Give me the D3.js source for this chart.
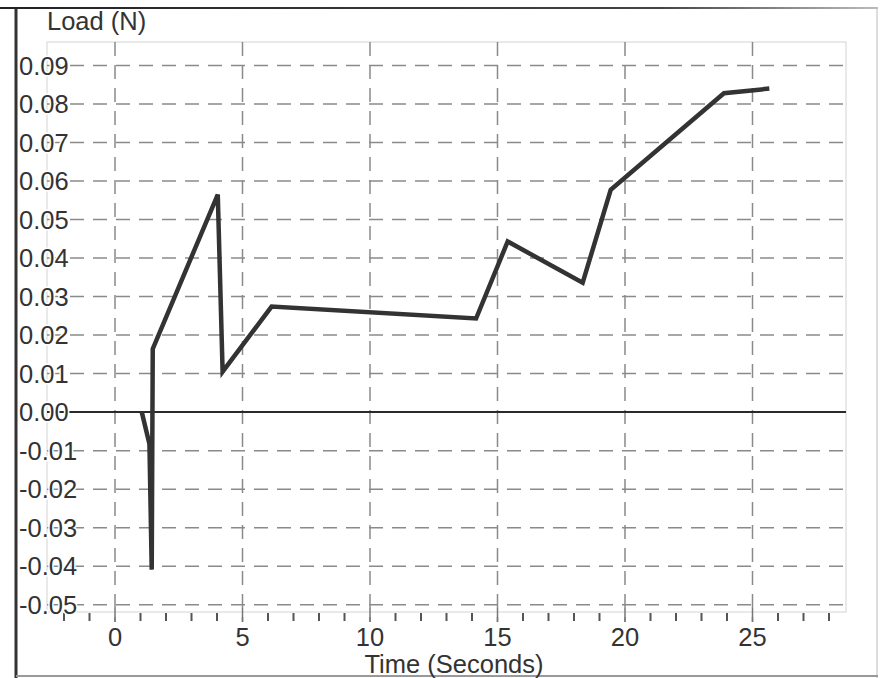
<!DOCTYPE html>
<html><head><meta charset="utf-8">
<script src="https://cdn.jsdelivr.net/npm/d3@7"></script>
<style>
html,body{margin:0;padding:0;background:#fff;}
svg{display:block;font-family:"Liberation Sans",Arial,sans-serif;}
</style></head>
<body>
<svg id="c" width="881" height="678"></svg>
<script>
// Data
const timeSec = [1.05, 1.35, 1.44, 1.48, 4.03, 4.22, 6.14, 14.16, 15.4, 18.34, 19.44, 23.88, 25.66];
const loadN   = [0.0, -0.0083, -0.0409, 0.0164, 0.0565, 0.0105, 0.0274, 0.0243, 0.0443, 0.0336, 0.0577, 0.0828, 0.0840];
const yTicks = [0.09, 0.08, 0.07, 0.06, 0.05, 0.04, 0.03, 0.02, 0.01, 0.00, -0.01, -0.02, -0.03, -0.04, -0.05];
const xMajor = [0, 5, 10, 15, 20, 25];
const xMinor = d3.range(-2, 29).filter(v => v % 5 !== 0);
const yTitle = "Load (N)";
const xTitle = "Time (Seconds)";

const svg = d3.select("#c");
const L = 47, R = 846, T = 42, B = 612;
const x = d3.scaleLinear().domain([-2.667, 28.667]).range([L, R]);
const y = d3.scaleLinear().domain([-0.0519, 0.0961]).range([B, T]);

// outer frame
const defs = svg.append("defs");
const g1 = defs.append("linearGradient").attr("id","topg").attr("x1","0").attr("x2","1");
g1.append("stop").attr("offset","0").attr("stop-color","#222");
g1.append("stop").attr("offset","0.75").attr("stop-color","#444");
g1.append("stop").attr("offset","1").attr("stop-color","#bbb");
svg.append("rect").attr("x",0).attr("y",7).attr("width",878).attr("height",2).attr("fill","url(#topg)");
svg.append("line").attr("x1",16).attr("x2",16).attr("y1",8).attr("y2",678).attr("stroke","#333").attr("stroke-width",3);
svg.append("line").attr("x1",877).attr("x2",877).attr("y1",8).attr("y2",678).attr("stroke","#ddd").attr("stroke-width",2);
svg.append("line").attr("x1",16).attr("x2",878).attr("y1",676).attr("y2",676).attr("stroke","#999").attr("stroke-width",2);

// plot box
svg.append("rect").attr("x",L).attr("y",T).attr("width",R-L).attr("height",B-T)
  .attr("fill","none").attr("stroke","#e2e2e2").attr("stroke-width",1.5);

// horizontal gridlines
svg.append("g").selectAll("line").data(yTicks.filter(v => v !== 0)).join("line")
  .attr("x1", L).attr("x2", R).attr("y1", d => y(d)).attr("y2", d => y(d))
  .attr("stroke","#8a8a8a").attr("stroke-width",1.5).attr("stroke-dasharray","14,9");

// vertical gridlines
svg.append("g").selectAll("line").data(xMajor).join("line")
  .attr("x1", d => x(d)).attr("x2", d => x(d)).attr("y1", T).attr("y2", B + 10)
  .attr("stroke","#8a8a8a").attr("stroke-width",1.5).attr("stroke-dasharray","14,9");

// minor ticks
svg.append("g").selectAll("line").data(xMinor).join("line")
  .attr("x1", d => x(d)).attr("x2", d => x(d)).attr("y1", B + 1).attr("y2", B + 9)
  .attr("stroke","#555").attr("stroke-width",2);
svg.append("g").selectAll("line").data(xMajor).join("line")
  .attr("x1", d => x(d)).attr("x2", d => x(d)).attr("y1", B - 4).attr("y2", B + 10)
  .attr("stroke","#777").attr("stroke-width",1.5);

// zero line
svg.append("line").attr("x1", L).attr("x2", R).attr("y1", y(0)).attr("y2", y(0))
  .attr("stroke","#2a2a2a").attr("stroke-width",2);

// data line
const pts = timeSec.map((t,i) => [t, loadN[i]]);
svg.append("path").datum(pts)
  .attr("d", d3.line().x(d => x(d[0])).y(d => y(d[1])))
  .attr("fill","none").attr("stroke","#333").attr("stroke-width",4.5)
  .attr("stroke-linejoin","miter").attr("stroke-linecap","butt");

// y tick labels
svg.append("g").selectAll("text").data(yTicks).join("text")
  .attr("x", 19).attr("y", d => y(d)).attr("dy","0.36em")
  .attr("font-size", 25.5).attr("fill","#333")
  .attr("stroke","#fff").attr("stroke-width",3).attr("paint-order","stroke")
  .text(d => d.toFixed(2));

// x tick labels
svg.append("g").selectAll("text").data(xMajor).join("text")
  .attr("x", d => x(d)).attr("y", 646).attr("text-anchor","middle")
  .attr("font-size", 25.5).attr("fill","#333")
  .text(d => d);

// titles
svg.append("text").attr("x", 454).attr("y", 673).attr("text-anchor","middle")
  .attr("font-size", 25.5).attr("fill","#333").text(xTitle);
svg.append("text").attr("x", 47).attr("y", 30)
  .attr("font-size", 25.5).attr("fill","#333").text(yTitle);
// redraw top frame over title
svg.append("rect").attr("x",0).attr("y",0).attr("width",881).attr("height",7).attr("fill","#fff");
svg.append("rect").attr("x",0).attr("y",7).attr("width",878).attr("height",2).attr("fill","url(#topg)");
</script>
</body></html>
